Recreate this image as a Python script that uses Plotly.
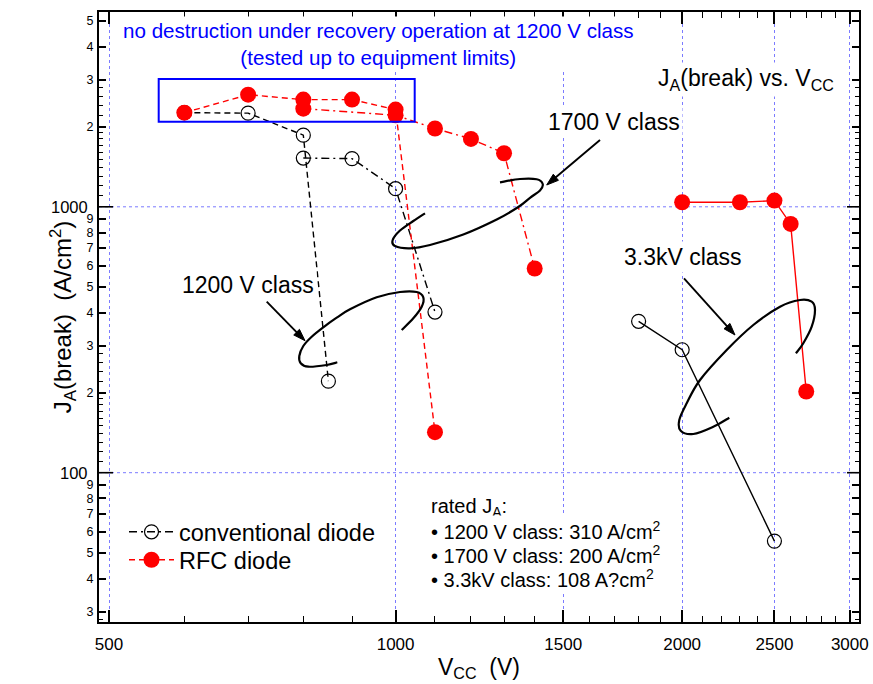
import math
import plotly.graph_objects as go

# ---------------- data ----------------
# 1200 V class, conventional diode (dashed)
conv_1200_vcc = [600, 700, 800, 850]
conv_1200_ja = [2260, 2250, 1860, 221]
# 1700 V class, conventional diode (dash-dot)
conv_1700_vcc = [800, 900, 1000, 1100]
conv_1700_ja = [1525, 1518, 1170, 402]
# 1200 V class, RFC diode (dashed)
rfc_1200_vcc = [600, 700, 800, 900, 1000, 1100]
rfc_1200_ja = [2260, 2640, 2530, 2530, 2320, 142]
# 1700 V class, RFC diode (dash-dot)
rfc_1700_vcc = [800, 1000, 1100, 1200, 1300, 1400]
rfc_1700_ja = [2340, 2210, 1970, 1800, 1590, 586]
# 3.3 kV class
conv_3300_vcc = [1800, 2000, 2500]
conv_3300_ja = [371, 290, 55.3]
rfc_3300_vcc = [2000, 2300, 2500, 2600, 2700]
rfc_3300_ja = [1040, 1040, 1055, 862, 202]

x_major = [500, 1000, 1500, 2000, 2500, 3000]
x_minor = [v for v in range(600, 3000, 100) if v % 500 != 0]
y_digits = [30, 40, 50, 60, 70, 80, 90, 200, 300, 400, 500, 600, 700, 800, 900,
            2000, 3000, 4000, 5000]
y_decades = [100, 1000]
y_minor = [m * d for d in (10, 100, 1000) for m in (1.1, 1.2, 1.3, 1.4, 1.5, 1.6, 1.7, 1.8, 1.9,
                                                    2.2, 2.4, 2.6, 2.8)]
rated_lines = ["rated J<sub>A</sub>:",
               "• 1200 V class: 310 A/cm<sup>2</sup>",
               "• 1700 V class: 200 A/cm<sup>2</sup>",
               "• 3.3kV class: 108 A?cm<sup>2</sup>"]

# ---------------- geometry helpers ----------------
W, H = 873, 684
ML, MR, MT, MB = 99, 14, 12, 62
PW, PH = W - ML - MR, H - MT - MB
Y_LO = 2 - (622 - 472.7) / 265.9
Y_HI = 3 + (206.8 - 12) / 265.9


def px(x):
    return (x - ML) / PW


def py(y):
    return (H - MB - y) / PH


def smooth_path(pts):
    P = [(px(x), py(y)) for x, y in pts]
    d = f"M{P[0][0]:.5f},{P[0][1]:.5f}"
    for i in range(len(P) - 1):
        p0 = P[i - 1] if i > 0 else P[i]
        p1, p2 = P[i], P[i + 1]
        p3 = P[i + 2] if i + 2 < len(P) else P[i + 1]
        c1 = (p1[0] + (p2[0] - p0[0]) / 6, p1[1] + (p2[1] - p0[1]) / 6)
        c2 = (p2[0] - (p3[0] - p1[0]) / 6, p2[1] - (p3[1] - p1[1]) / 6)
        d += (f" C{c1[0]:.5f},{c1[1]:.5f} {c2[0]:.5f},{c2[1]:.5f}"
              f" {p2[0]:.5f},{p2[1]:.5f}")
    return d


FONT = "Liberation Sans, Arial, sans-serif"
RED = "#ff0000"
GRID = "#7b7bff"

fig = go.Figure()


def add_series(xs, ys, color, dash, filled, name, legend):
    marker = (dict(symbol="circle", size=16, color=color, line=dict(width=0))
              if filled else
              dict(symbol="circle-open", size=14, color="black", line=dict(width=1.2)))
    fig.add_trace(go.Scatter(
        x=xs, y=ys, mode="lines+markers", name=name,
        showlegend=legend is not None, legend=legend or "legend",
        line=dict(color=color, width=1.4, dash=dash), marker=marker))


add_series(conv_1200_vcc, conv_1200_ja, "black", "6px,4px", False, "conventional diode", None)
add_series(conv_1700_vcc, conv_1700_ja, "black", "8px,4px,2px,4px", False, "conventional diode", "legend")
add_series(conv_3300_vcc, conv_3300_ja, "black", "solid", False, "conventional diode", None)
add_series(rfc_1200_vcc, rfc_1200_ja, RED, "6px,4px", True, "RFC diode", "legend2")
add_series(rfc_1700_vcc, rfc_1700_ja, RED, "8px,4px,2px,4px", True, "RFC diode", None)
add_series(rfc_3300_vcc, rfc_3300_ja, RED, "solid", True, "RFC diode", None)

# ---------------- shapes ----------------
shapes = []
for yv in y_decades:
    # horizontal grid lines at the decades
    shapes.append(dict(type="line", xref="paper", yref="y", x0=0, x1=1, y0=yv, y1=yv,
                       layer="below", line=dict(color=GRID, width=1, dash="dot")))
    # longer decade ticks on both vertical axes
    shapes.append(dict(type="line", xref="paper", yref="y", x0=0, x1=14 / PW, y0=yv, y1=yv,
                       line=dict(color="black", width=1.6)))
    shapes.append(dict(type="line", xref="paper", yref="y", x0=1 - 12 / PW, x1=1, y0=yv, y1=yv,
                       line=dict(color="black", width=1.6)))

# highlight box around the 1200 V class results
shapes.append(dict(type="rect", xref="paper", yref="paper",
                   x0=px(158.7), x1=px(414.7), y0=py(121.7), y1=py(79),
                   line=dict(color="#0000ff", width=2)))

# open loops marking each voltage class
loop_1700 = [(500, 182.3), (520, 179), (536.7, 179.3), (542.7, 184), (540, 190.5),
             (530, 197.8), (518.3, 207), (496.7, 219.5), (463.3, 234.5), (430, 245),
             (410, 248.3), (395, 246), (392.7, 240), (400, 230.5), (413.3, 221), (425, 213.3)]
loop_1200 = [(337.3, 362.3), (326.7, 365), (308.3, 366.7), (300.7, 363.3), (299.3, 356),
             (303.3, 346), (311.7, 336.7), (323.3, 327.3), (336.7, 317.7), (350, 309.3),
             (376.7, 297.3), (400, 292), (416.7, 292), (423.3, 297.3), (421.7, 306.7),
             (413.3, 318.3), (401.7, 330)]
loop_3300 = [(729.3, 417.7), (713.3, 426.7), (693.3, 434), (680.7, 430.7), (679.3, 420),
             (686.7, 403.3), (700, 380), (726.7, 350), (753.3, 325), (780, 306.7),
             (800, 300), (811.7, 301.7), (815, 310), (811.7, 326.7), (803.3, 343.3),
             (796, 353.3)]
for loop in (loop_1700, loop_1200, loop_3300):
    shapes.append(dict(type="path", xref="paper", yref="paper", path=smooth_path(loop),
                       line=dict(color="black", width=2.2)))


# pointer arrows from the class labels to the loops
def arrow(tail, head, length=12, half_width=4):
    dx, dy = head[0] - tail[0], head[1] - tail[1]
    n = math.hypot(dx, dy)
    ux, uy = dx / n, dy / n
    bx, by = head[0] - ux * length, head[1] - uy * length
    shapes.append(dict(type="line", xref="paper", yref="paper",
                       x0=px(tail[0]), y0=py(tail[1]), x1=px(bx + ux * 2), y1=py(by + uy * 2),
                       line=dict(color="black", width=1.9)))
    p1 = (bx - uy * half_width, by + ux * half_width)
    p2 = (bx + uy * half_width, by - ux * half_width)
    path = (f"M{px(head[0]):.5f},{py(head[1]):.5f} L{px(p1[0]):.5f},{py(p1[1]):.5f}"
            f" L{px(p2[0]):.5f},{py(p2[1]):.5f} Z")
    shapes.append(dict(type="path", xref="paper", yref="paper", path=path,
                       fillcolor="black", line=dict(color="black", width=1)))


arrow((600, 140), (546.7, 185))
arrow((266.7, 301.7), (305, 340.7))
arrow((684, 278.3), (735, 335))

# ---------------- annotations ----------------
ann = []


def label(text, x, y, size, color="black", xanchor="left", yanchor="middle",
          align="left", bg="white"):
    ann.append(dict(text=text, xref="paper", yref="paper", x=px(x), y=py(y),
                    xanchor=xanchor, yanchor=yanchor, align=align, showarrow=False,
                    bgcolor=bg, borderpad=2,
                    font=dict(family=FONT, size=size, color=color)))


label("no destruction under recovery operation at 1200 V class<br>"
      "(tested up to equipment limits)", 378.5, 44, 20.6, color="#0000ff",
      xanchor="center", align="center")
label("J<sub>A</sub>(break) vs. V<sub>CC</sub>", 655, 80, 23)
label("1700 V class", 545, 122, 23)
label("1200 V class", 179, 285, 23)
label("3.3kV class", 621, 257, 23)
for line_text, yc in zip(rated_lines, (507, 530.5, 554, 578)):
    label(line_text, 428, yc, 20)

# decade labels on the y axis (larger than the digit labels)
for yv in y_decades:
    ann.append(dict(text=str(yv), xref="paper", yref="paper", x=px(90),
                    y=(math.log10(yv) - Y_LO) / (Y_HI - Y_LO),
                    xanchor="right", yanchor="middle", showarrow=False,
                    font=dict(family=FONT, size=16.5, color="black")))

# ---------------- axes ----------------
legend_style = dict(xanchor="left", yanchor="top", font=dict(family=FONT, size=23.5),
                    bgcolor="rgba(0,0,0,0)", itemwidth=45, tracegroupgap=0)

fig.update_layout(
    width=W, height=H,
    margin=dict(l=ML, r=MR, t=MT, b=MB, autoexpand=False),
    paper_bgcolor="white", plot_bgcolor="white",
    font=dict(family=FONT, color="black"),
    shapes=shapes, annotations=ann,
    legend=dict(x=px(124), y=py(510), **legend_style),
    legend2=dict(x=px(124), y=py(538), **legend_style),
    xaxis=dict(
        type="log", range=[math.log10(500) - 10 / 952, math.log10(500) + 750 / 952],
        tickmode="array", tickvals=x_major, ticktext=[str(v) for v in x_major],
        ticks="inside", ticklen=12, tickwidth=1.6, tickcolor="black",
        minor=dict(tickmode="array", tickvals=x_minor, ticks="inside", ticklen=6,
                   tickwidth=1.4, tickcolor="black", showgrid=False),
        showline=True, linecolor="black", linewidth=2, mirror="ticks",
        showgrid=True, gridcolor=GRID, gridwidth=1, griddash="dot",
        tickfont=dict(size=17), ticklabelstandoff=6,
        title=dict(text="V<sub>CC</sub>\u00a0\u00a0(V)", font=dict(size=23), standoff=5),
        zeroline=False,
    ),
    yaxis=dict(
        type="log", range=[Y_LO, Y_HI],
        tickmode="array", tickvals=y_digits,
        ticktext=[str(int(round(v / 10 ** math.floor(math.log10(v))))) for v in y_digits],
        ticks="inside", ticklen=7, tickwidth=1.6, tickcolor="black",
        minor=dict(tickmode="array", tickvals=y_minor, ticks="inside", ticklen=4,
                   tickwidth=1.2, tickcolor="black", showgrid=False),
        showline=True, linecolor="black", linewidth=2, mirror="ticks",
        showgrid=False, tickfont=dict(size=12.5), ticklabelstandoff=1,
        title=dict(text="J<sub>A</sub>(break)\u00a0\u00a0(A/cm<sup>2</sup>)",
                   font=dict(size=24), standoff=8),
        zeroline=False,
    ),
)

fig.write_html("out.html")
